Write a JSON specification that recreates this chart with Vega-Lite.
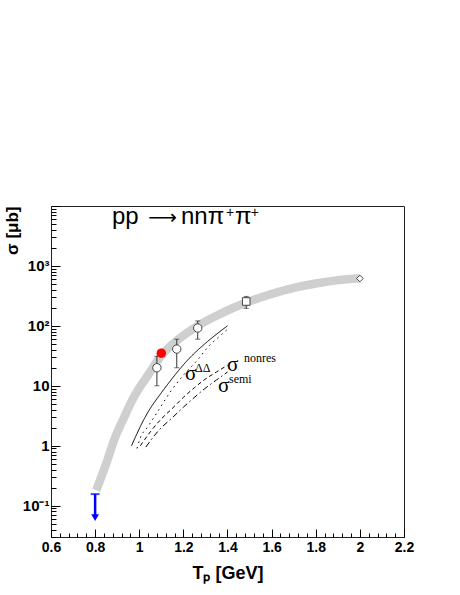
{
 "$schema": "https://vega.github.io/schema/vega-lite/v6.json",
 "width": 353, "height": 331,
 "autosize": {"type": "none"},
 "padding": {"left": 51, "top": 206, "right": 56, "bottom": 58},
 "background": "white",
 "config": {"view": {"stroke": "#222", "strokeWidth": 1}, "font": "Liberation Sans"},
 "resolve": {"axis": {"x": "independent", "y": "independent"}},
 "datasets": {
  "band": [
   {"T": 0.805, "s": 0.18}, {"T": 0.85, "s": 0.5}, {"T": 0.888, "s": 1.3}, {"T": 0.93, "s": 2.9},
   {"T": 0.963, "s": 5.3}, {"T": 1.0, "s": 9.2}, {"T": 1.038, "s": 14.7}, {"T": 1.1, "s": 32},
   {"T": 1.174, "s": 58}, {"T": 1.265, "s": 100}, {"T": 1.37, "s": 160}, {"T": 1.485, "s": 245},
   {"T": 1.6, "s": 340}, {"T": 1.7, "s": 430}, {"T": 1.8, "s": 510}, {"T": 1.9, "s": 580}, {"T": 2.0, "s": 625}
  ],
  "theory": [
   {"c": "total", "T": 0.965, "s": 1.0}, {"c": "total", "T": 0.99, "s": 1.6}, {"c": "total", "T": 1.02, "s": 2.7},
   {"c": "total", "T": 1.05, "s": 4.2}, {"c": "total", "T": 1.09, "s": 6.8}, {"c": "total", "T": 1.144, "s": 12.5},
   {"c": "total", "T": 1.22, "s": 27}, {"c": "total", "T": 1.31, "s": 55}, {"c": "total", "T": 1.4, "s": 100},
   {"c": "dd", "T": 0.99, "s": 0.9}, {"c": "dd", "T": 1.003, "s": 1.3}, {"c": "dd", "T": 1.04, "s": 2.1},
   {"c": "dd", "T": 1.079, "s": 3.5}, {"c": "dd", "T": 1.147, "s": 8.5}, {"c": "dd", "T": 1.2, "s": 15},
   {"c": "dd", "T": 1.268, "s": 28}, {"c": "dd", "T": 1.313, "s": 45}, {"c": "dd", "T": 1.36, "s": 65}, {"c": "dd", "T": 1.4, "s": 88},
   {"c": "nonres", "T": 1.005, "s": 1.0}, {"c": "nonres", "T": 1.05, "s": 1.7}, {"c": "nonres", "T": 1.1, "s": 2.8},
   {"c": "nonres", "T": 1.144, "s": 4.0}, {"c": "nonres", "T": 1.2, "s": 6.4}, {"c": "nonres", "T": 1.25, "s": 9.3},
   {"c": "nonres", "T": 1.294, "s": 12.5}, {"c": "nonres", "T": 1.35, "s": 17}, {"c": "nonres", "T": 1.4, "s": 22},
   {"c": "semi", "T": 1.03, "s": 0.95}, {"c": "semi", "T": 1.07, "s": 1.5}, {"c": "semi", "T": 1.1, "s": 2.0},
   {"c": "semi", "T": 1.144, "s": 2.8}, {"c": "semi", "T": 1.2, "s": 4.4}, {"c": "semi", "T": 1.25, "s": 6.4},
   {"c": "semi", "T": 1.294, "s": 8.8}, {"c": "semi", "T": 1.35, "s": 12.5}, {"c": "semi", "T": 1.4, "s": 17}
  ],
  "points": [
   {"T": 1.08, "s": 20, "lo": 10, "hi": 31, "shape": "circle"},
   {"T": 1.17, "s": 41, "lo": 20, "hi": 60, "shape": "circle"},
   {"T": 1.265, "s": 92, "lo": 60, "hi": 121, "shape": "circle"},
   {"T": 1.485, "s": 255, "lo": 196, "hi": 310, "shape": "square"},
   {"T": 2.0, "s": 617, "lo": 617, "hi": 617, "shape": "diamond"}
  ],
  "red": [{"T": 1.1, "s": 35}],
  "limit": [{"T": 0.8, "hi": 0.156, "lo": 0.066, "tip": 0.063}],
  "title": [{"T": 0.8765, "s": 5066, "text": "pp"}, {"T": 1.1892, "s": 5066, "text": "nnπ"}, {"T": 1.434, "s": 5066, "text": "π"}],
  "titlesup": [{"T": 1.3932, "s": 6555, "text": "+"}, {"T": 1.505, "s": 6555, "text": "+"}],
  "arrow": [{"T": 1.1054, "s": 5066, "text": "⟶"}],
  "sig": [
   {"T": 1.207, "s": 12.5}, {"T": 1.398, "s": 17.7}, {"T": 1.357, "s": 7.96}
  ],
  "sup": [
   {"T": 1.253, "s": 17.2, "text": "ΔΔ"}, {"T": 1.475, "s": 24.9, "text": "nonres"}, {"T": 1.407, "s": 11.3, "text": "semi"}
  ]
 },
 "layer": [
  {
   "data": {"name": "band"},
   "mark": {"type": "line", "color": "#cfcfcf", "strokeWidth": 8.5, "interpolate": "monotone", "strokeCap": "butt"},
   "encoding": {
    "x": {"field": "T", "type": "quantitative", "scale": {"domain": [0.6, 2.2], "nice": false, "zero": false},
     "axis": {
      "orient": "bottom", "title": "Tₚ [GeV]",
      "values": [0.6,0.8,1,1.2,1.4,1.6,1.8,2,2.2],
      "labelExpr": "format(datum.value, '~g')",
      "ticks": false, "domain": false,
      "grid": true, "gridColor": "#000000", "gridWidth": 1, "gridOpacity": 1, "gridDash": [8, 323], "gridDashOffset": 8,
      "labelFont": "Liberation Sans", "labelFontWeight": "bold", "labelFontSize": 14, "labelColor": "black",
      "labelPadding": 3, "labelFlush": false, "labelOverlap": false,
      "titleFont": "Liberation Sans", "titleFontWeight": "bold", "titleFontSize": 18, "titleColor": "black",
      "titleX": 176.5, "titleY": 41, "titleBaseline": "alphabetic"
     }},
    "y": {"field": "s", "type": "quantitative", "scale": {"type": "log", "domain": [0.03, 10000], "nice": false},
     "axis": {
      "orient": "left", "title": "σ [μb]",
      "values": [0.1, 1, 10, 100, 1000, 10000],
      "labelExpr": "datum.value==1000?'10³':datum.value==100?'10²':datum.value==10?'10':datum.value==1?'1':datum.value==0.1?'10⁻¹':''",
      "ticks": false, "domain": false,
      "grid": true, "gridColor": "#000000", "gridWidth": 1, "gridOpacity": 1, "gridDash": [9, 2000],
      "labelFont": "Liberation Sans", "labelFontWeight": "bold", "labelFontSize": 15, "labelColor": "black",
      "labelPadding": 2, "labelFlush": false, "labelOverlap": false,
      "titleFont": "Liberation Sans", "titleFontWeight": "bold", "titleFontSize": 17, "titleColor": "black",
      "titleX": -39, "titleY": 0, "titleAlign": "right", "titleBaseline": "middle", "titleAngle": -90
     }}
   }
  },
  {
   "data": {"name": "theory"},
   "mark": {"type": "line", "color": "black", "strokeWidth": 1, "interpolate": "monotone"},
   "encoding": {
    "x": {"field": "T", "type": "quantitative",
     "axis": {"orient": "bottom", "title": null, "labels": false, "domain": false, "ticks": false,
      "grid": true, "gridColor": "#000000", "gridWidth": 1, "gridOpacity": 1, "gridDash": [4, 327], "gridDashOffset": 4,
      "values": [0.64,0.68,0.72,0.76,0.84,0.88,0.92,0.96,1.04,1.08,1.12,1.16,1.24,1.28,1.32,1.36,1.44,1.48,1.52,1.56,1.64,1.68,1.72,1.76,1.84,1.88,1.92,1.96,2.04,2.08,2.12,2.16]}},
    "y": {"field": "s", "type": "quantitative",
     "axis": {"orient": "left", "title": null, "labels": false, "domain": false, "ticks": false,
      "grid": true, "gridColor": "#000000", "gridWidth": 1, "gridOpacity": 1, "gridDash": [5, 2000],
      "values": [0.03,0.04,0.05,0.06,0.07,0.08,0.09,0.2,0.3,0.4,0.5,0.6,0.7,0.8,0.9,2,3,4,5,6,7,8,9,20,30,40,50,60,70,80,90,200,300,400,500,600,700,800,900,2000,3000,4000,5000,6000,7000,8000,9000]}},
    "detail": {"field": "c"},
    "strokeDash": {"field": "c", "type": "nominal", "legend": null,
     "scale": {"domain": ["total", "dd", "nonres", "semi"], "range": [[1, 0], [1.5, 4], [4, 3], [6, 3, 1.5, 3]]}}
   }
  },
  {
   "data": {"name": "points"},
   "mark": {"type": "rule", "color": "#333", "strokeWidth": 1},
   "encoding": {
    "x": {"field": "T", "type": "quantitative", "axis": null},
    "y": {"field": "lo", "type": "quantitative", "axis": null},
    "y2": {"field": "hi"}
   }
  },
  {
   "data": {"name": "points"},
   "transform": [{"fold": ["lo", "hi"], "as": ["end", "v"]}],
   "mark": {"type": "tick", "orient": "horizontal", "size": 5, "thickness": 1, "color": "#333"},
   "encoding": {
    "x": {"field": "T", "type": "quantitative", "axis": null},
    "y": {"field": "v", "type": "quantitative", "axis": null}
   }
  },
  {
   "data": {"name": "points"},
   "mark": {"type": "point", "filled": false, "fill": "white", "fillOpacity": 1, "stroke": "#444", "strokeWidth": 1, "opacity": 1},
   "encoding": {
    "x": {"field": "T", "type": "quantitative", "axis": null},
    "y": {"field": "s", "type": "quantitative", "axis": null},
    "shape": {"field": "shape", "type": "nominal", "scale": null},
    "size": {"field": "shape", "type": "nominal", "legend": null, "scale": {"domain": ["circle", "square", "diamond"], "range": [70, 45, 85]}}
   }
  },
  {
   "data": {"name": "red"},
   "mark": {"type": "circle", "color": "#ff0000", "size": 90, "opacity": 1},
   "encoding": {
    "x": {"field": "T", "type": "quantitative", "axis": null},
    "y": {"field": "s", "type": "quantitative", "axis": null}
   }
  },
  {
   "data": {"name": "limit"},
   "mark": {"type": "rule", "color": "#0000ff", "strokeWidth": 2.5},
   "encoding": {
    "x": {"field": "T", "type": "quantitative", "axis": null},
    "y": {"field": "hi", "type": "quantitative", "axis": null},
    "y2": {"field": "lo"}
   }
  },
  {
   "data": {"name": "limit"},
   "mark": {"type": "tick", "orient": "horizontal", "size": 9, "thickness": 2, "color": "#0000ff"},
   "encoding": {
    "x": {"field": "T", "type": "quantitative", "axis": null},
    "y": {"field": "hi", "type": "quantitative", "axis": null}
   }
  },
  {
   "data": {"name": "limit"},
   "mark": {"type": "point", "shape": "triangle-down", "filled": true, "color": "#0000ff", "size": 60, "opacity": 1},
   "encoding": {
    "x": {"field": "T", "type": "quantitative", "axis": null},
    "y": {"field": "tip", "type": "quantitative", "axis": null}
   }
  },
  {
   "data": {"name": "title"},
   "mark": {"type": "text", "font": "Liberation Sans", "fontSize": 24, "align": "left", "baseline": "alphabetic", "color": "black"},
   "encoding": {
    "x": {"field": "T", "type": "quantitative", "axis": null},
    "y": {"field": "s", "type": "quantitative", "axis": null},
    "text": {"field": "text"}
   }
  },
  {
   "data": {"name": "titlesup"},
   "mark": {"type": "text", "font": "Liberation Sans", "fontSize": 14, "align": "left", "baseline": "alphabetic", "color": "black"},
   "encoding": {
    "x": {"field": "T", "type": "quantitative", "axis": null},
    "y": {"field": "s", "type": "quantitative", "axis": null},
    "text": {"field": "text"}
   }
  },
  {
   "data": {"name": "arrow"},
   "mark": {"type": "text", "font": "DejaVu Sans", "fontSize": 20, "align": "center", "baseline": "alphabetic", "color": "black"},
   "encoding": {
    "x": {"field": "T", "type": "quantitative", "axis": null},
    "y": {"field": "s", "type": "quantitative", "axis": null},
    "text": {"field": "text"}
   }
  },
  {
   "data": {"name": "sig"},
   "mark": {"type": "text", "font": "Liberation Serif", "fontSize": 21, "align": "left", "baseline": "alphabetic", "color": "black", "text": "σ"},
   "encoding": {
    "x": {"field": "T", "type": "quantitative", "axis": null},
    "y": {"field": "s", "type": "quantitative", "axis": null}
   }
  },
  {
   "data": {"name": "sup"},
   "mark": {"type": "text", "font": "Liberation Serif", "fontSize": 12, "align": "left", "baseline": "alphabetic", "color": "black"},
   "encoding": {
    "x": {"field": "T", "type": "quantitative", "axis": null},
    "y": {"field": "s", "type": "quantitative", "axis": null},
    "text": {"field": "text"}
   }
  }
 ]
}
